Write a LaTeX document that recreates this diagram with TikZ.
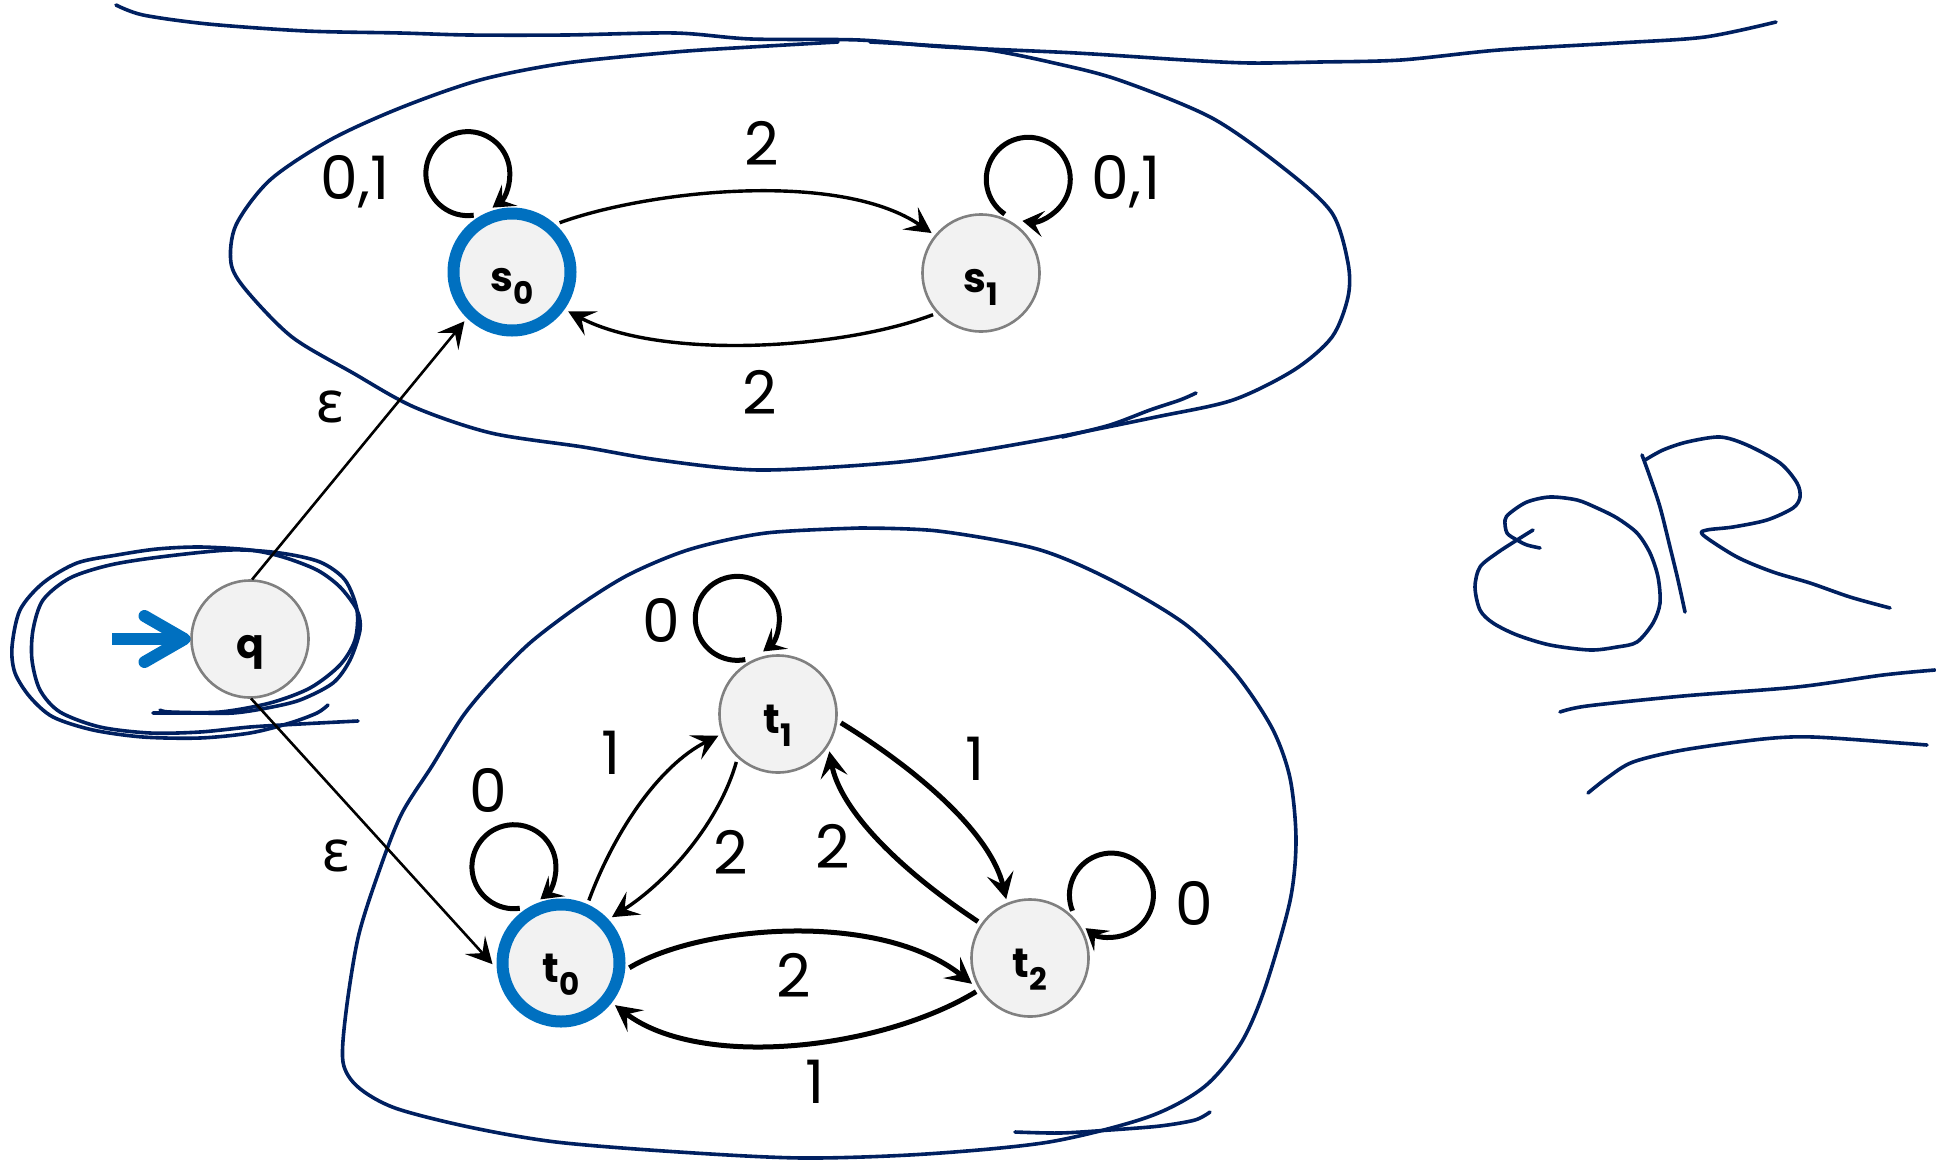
\documentclass[tikz,border=0pt]{standalone}
\usepackage{fontspec}
\setmainfont{Poppins}
\newfontfamily\greekfont{Noto Sans}
\usetikzlibrary{arrows.meta}

\definecolor{penblue}{HTML}{002060}
\definecolor{acceptblue}{HTML}{0070C0}
\definecolor{statefill}{HTML}{F2F2F2}
\definecolor{stategray}{HTML}{808080}

\newcommand{\stsub}[1]{\raisebox{-13pt}{\fontsize{31}{31}\selectfont #1}}

\begin{document}
\begin{tikzpicture}[x=1pt,y=-1pt,
  state/.style={circle,draw=stategray,fill=statefill,line width=2.6pt,minimum size=117pt,inner sep=0pt,outer sep=5pt,
    text height=42pt,text depth=4pt,font=\fontsize{41}{41}\selectfont\bfseries},
  accept/.style={state,draw=acceptblue,line width=12pt,outer sep=10pt},
  lbl/.style={inner sep=0pt,text depth=0pt,font=\fontsize{60}{60}\selectfont},
  tip/.tip={Stealth[length=26pt,width=27pt,inset=11pt]},
  looptip/.tip={Stealth[length=21pt,width=26pt,inset=9pt]},
  trans/.style={line width=3.4pt,-tip},
  thicktrans/.style={trans,line width=5pt},
  eps/.style={line width=2.6pt,-tip},
  selfloop/.style={line width=5pt,-looptip},
  inkline/.style={draw=penblue,line width=3.6pt,line cap=round,line join=round},
  initarrow/.style={draw=acceptblue,line width=12pt,-{Straight Barb[length=40pt,width=46pt,round]}}]
\useasboundingbox (0,0) rectangle (1936,1162);

% pen strokes
\draw[inkline] plot[smooth] coordinates {(116,5) (143,15) (208,24) (306,31) (400,33) (469,35) (566,35) (675,33) (751,39) (859,40) (946,47) (1076,53) (1185,60) (1250,63) (1320,62) (1401,60) (1499,50) (1618,43) (1705,37) (1776,22)};
\draw[inkline] plot[smooth] coordinates {(838,42) (751,47) (675,52) (566,63) (480,80) (400,108) (330,140) (270,180) (236,225) (231,263) (246,290) (292,337) (353,373) (414,407) (491,433) (583,447) (659,460) (759,470) (889,463) (965,453) (1057,437) (1156,417) (1233,400) (1294,370) (1332,337) (1348,297) (1348,263) (1332,213) (1286,170) (1212,118) (1119,80) (1054,63) (989,50) (924,45) (870,42)};
\draw[inkline] plot[smooth] coordinates {(1062,437) (1110,425) (1150,410) (1180,400) (1196,393)};
\draw[inkline] plot[smooth] coordinates {(153,713) (193,713) (233,713) (267,708) (300,700) (333,683) (350,660) (360,630) (357,610) (340,587) (317,570) (283,557) (250,550) (200,547) (157,549) (117,555) (77,563) (43,583) (20,610) (12,647) (15,673) (30,697) (53,717) (93,730) (143,737) (200,738) (250,733) (290,723) (317,713) (328,705)};
\draw[inkline] plot[smooth] coordinates {(358,721) (300,724) (250,727) (200,732) (150,733) (100,727) (60,712) (40,690) (32,660) (33,630) (43,600) (70,578) (110,565) (160,557) (230,550) (280,553) (320,562) (345,580) (357,610) (355,640) (340,665) (310,688) (270,703) (220,712) (170,712) (160,710)};
\draw[inkline] plot[smooth] coordinates {(860,528) (766,533) (691,549) (630,574) (580,605) (531,642) (494,679) (463,716) (432,766) (401,815) (377,877) (358,938) (346,1012) (343,1062) (358,1087) (395,1108) (469,1127) (556,1142) (679,1152) (803,1158) (926,1154) (1049,1142) (1148,1117) (1204,1087) (1241,1043) (1265,988) (1290,901) (1296,840) (1290,778) (1272,728) (1235,673) (1185,624) (1111,580) (1037,549) (938,531) (860,528)};
\draw[inkline] plot[smooth] coordinates {(1015,1132) (1060,1133) (1110,1130) (1160,1126) (1195,1120) (1210,1112)};
\draw[inkline] plot[smooth] coordinates {(1540,548) (1527,545) (1517,540) (1507,533) (1505,520) (1510,513) (1527,502) (1550,497) (1577,500) (1597,508) (1617,518) (1637,533) (1650,553) (1658,577) (1660,603) (1653,623) (1637,642) (1617,647) (1590,650) (1550,645) (1517,635) (1493,623) (1480,610) (1475,587) (1480,567) (1497,553) (1517,540) (1533,530)};
\draw[inkline] plot[smooth] coordinates {(1642,455) (1650,477) (1660,507) (1670,547) (1678,580) (1685,612)};
\draw[inkline] plot[smooth] coordinates {(1645,460) (1663,450) (1687,442) (1720,437) (1747,445) (1780,463) (1797,483) (1800,497) (1793,508) (1767,520) (1733,527) (1707,530) (1703,535) (1737,557) (1773,572) (1810,583) (1850,597) (1890,608)};
\draw[inkline] plot[smooth] coordinates {(1560,712) (1587,706) (1683,696) (1797,687) (1883,675) (1935,670)};
\draw[inkline] plot[smooth] coordinates {(1588,793) (1607,778) (1633,762) (1683,750) (1763,739) (1813,737) (1900,743) (1927,745)};

% states
\node[accept] (s0) at (512,272) {s\stsub{0}};
\node[state] (s1) at (981,273) {s\stsub{1}};
\node[state,outer sep=1pt] (q) at (250,639) {q};
\node[state] (t1) at (778,714) {t\stsub{1}};
\node[accept] (t0) at (561,963) {t\stsub{0}};
\node[state] (t2) at (1030,958) {t\stsub{2}};
\coordinate (qin) at (112,639);

% transitions
\draw[initarrow] (qin) -- (q.west);
\draw[eps] (q.88) -- (s0.226);
\draw[eps] (q.-89) -- (t0.181);
\draw[trans] (s0.46) .. controls (650,190) and (840,170) .. (s1.141);
\draw[trans] (s1.221) .. controls (840,350) and (660,360) .. (s0.325);
\draw[selfloop] (s0.124) arc[start angle=82, end angle=414, radius=42];
\draw[selfloop] (s1.68) arc[start angle=124, end angle=458, radius=42];
\draw[trans] (t0.66) .. controls (615,830) and (660,765) .. (t1.200);
\draw[trans] (t1.229) .. controls (720,820) and (670,880) .. (t0.42);
\draw[thicktrans] (t1.352) .. controls (910,765) and (990,830) .. (t2.112);
\draw[thicktrans] (t2.145) .. controls (900,870) and (840,810) .. (t1.324);
\draw[thicktrans] (t0.356) .. controls (700,925) and (880,910) .. (t2.204);
\draw[thicktrans] (t2.212) .. controls (880,1050) and (700,1070) .. (t0.322);
\draw[selfloop] (t1.121) arc[start angle=79, end angle=412, radius=42];
\draw[selfloop] (t0.127) arc[start angle=82, end angle=411, radius=42];
\draw[selfloop] (t2.48) arc[start angle=158, end angle=488, radius=42];

% labels
\node[lbl] (ls0loop) at (355,177) {0,1};
\node[lbl] (ls1loop) at (1126,177) {0,1};
\node[lbl] (ls01) at (762,143) {2};
\node[lbl] (ls10) at (760,392) {2};
\node[lbl,font=\fontsize{58}{58}\greekfont] (lepsa) at (330,407) {ε};
\node[lbl,font=\fontsize{58}{58}\greekfont] (lepsb) at (336,856) {ε};
\node[lbl] (lt1loop) at (661,620) {0};
\node[lbl] (lt0loop) at (488,790) {0};
\node[lbl] (lt2loop) at (1194,903) {0};
\node[lbl] (lt01) at (611,753) {1};
\node[lbl] (lt10) at (731,852) {2};
\node[lbl] (lt12) at (975,759) {1};
\node[lbl] (lt21) at (833,846) {2};
\node[lbl] (lt02) at (794,975) {2};
\node[lbl] (lt20) at (815,1082) {1};
\end{tikzpicture}
\end{document}
